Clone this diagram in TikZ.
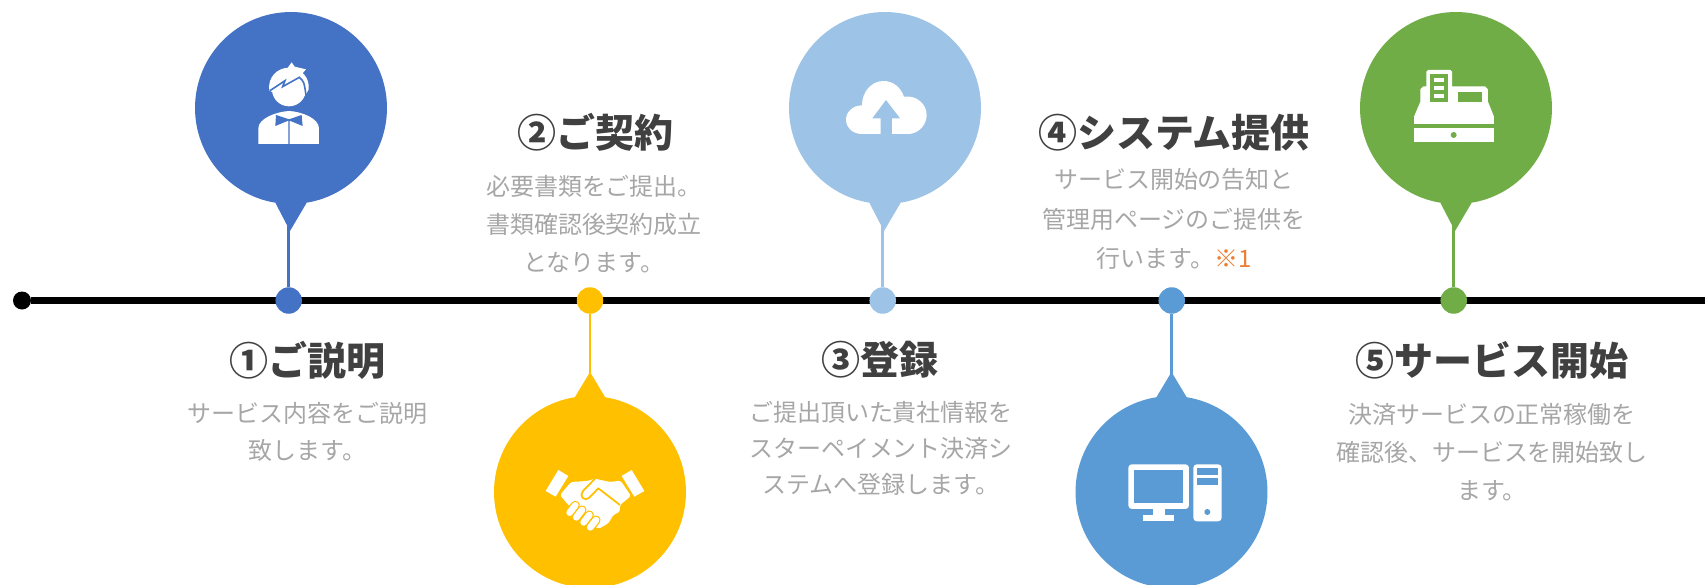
\documentclass[tikz,border=0pt]{standalone}
\usepackage{fontspec}
\usepackage{tikz}
\newfontfamily\jpfont{Noto Sans CJK JP}
\definecolor{blueA}{HTML}{4472C4}
\definecolor{goldA}{HTML}{FFC000}
\definecolor{skyA}{HTML}{9DC3E6}
\definecolor{blueB}{HTML}{5B9BD5}
\definecolor{greenA}{HTML}{70AD47}
\definecolor{titlegray}{HTML}{404040}
\definecolor{bodygray}{HTML}{A6A6A6}
\definecolor{noteorange}{HTML}{ED7D31}
\tikzset{
  bubble/.style={circle, inner sep=0pt, minimum size=3.84cm},
  dotmark/.style={circle, inner sep=0pt, minimum size=0.53cm},
  titletext/.style={text=titlegray, font=\jpfont\bfseries\fontsize{22.2}{26}\selectfont},
  bodytext/.style={text=bodygray, align=center, font=\jpfont\fontsize{13.65}{#1}\selectfont},
}

\begin{document}
\begin{tikzpicture}[x=0.02cm, y=-0.02cm]
  \useasboundingbox (0,0) rectangle (1705,585);

  % Timeline
  \node[circle, fill=black, inner sep=0pt, minimum size=0.36cm] (start) at (22,300.5) {};
  \coordinate (lineend) at (1705,300.5);
  \draw[line width=3.6pt] (start) -- (lineend);

  % Upper bubbles
  \foreach \n/\xb/\xd/\col in {1/291/288.7/blueA,3/885/882.7/skyA,5/1456/1453.7/greenA} {
    \node[bubble, fill=\col] (bub\n) at (\xb,108) {};
    \fill[\col] ({\xb-15.5},203) -- ({\xb-1},231) -- ({\xb+15.5},203) -- cycle;
    \node[dotmark, fill=\col] (dot\n) at (\xd,300.5) {};
    \coordinate (tip\n) at (\xd,222);
    \draw[\col, line width=1.6pt] (tip\n) -- (dot\n);
  }

  % Lower bubbles
  \foreach \n/\xb/\xd/\col in {2/590/590/goldA,4/1171.5/1171.7/blueB} {
    \node[bubble, fill=\col] (bub\n) at (\xb,492) {};
    \fill[\col] ({\xb-15},397) -- (\xb,372) -- ({\xb+15},397) -- cycle;
    \node[dotmark, fill=\col] (dot\n) at (\xd,300.5) {};
    \coordinate (tip\n) at (\xd,378);
    \draw[\col, line width=1.6pt] (tip\n) -- (dot\n);
  }

  % Titles
  \node[titletext] (title1) at (307.5,360) {①ご説明};
  \node[titletext] (title2) at (595.5,132.5) {②ご契約};
  \node[titletext] (title3) at (880,360) {③登録};
  \node[titletext] (title4) at (1174,132.5) {④システム提供};
  \node[titletext] (title5) at (1492,360) {⑤サービス開始};

  % Texts
  \node[bodytext=21] (body1) at (307.5,432) {サービス内容をご説明\\致します。};
  \node[bodytext=21.6] (body2) at (594,224.5) {必要書類をご提出。\\書類確認後契約成立\\となります。};
  \node[bodytext=20.5] (body3) at (881,448) {ご提出頂いた貴社情報を\\スターペイメント決済シ\\ステムへ登録します。};
  \node[bodytext=22.3] (body4) at (1174,219) {サービス開始の告知と\\管理用ページのご提供を\\行います。\textcolor{noteorange}{※1}};
  \node[bodytext=21.6] (body5) at (1492,452) {決済サービスの正常稼働を\\確認後、サービスを開始致し\\ます。};

  % Person
  \begin{scope}[shift={(170,0)}, scale=0.3333]
    \fill[white] (298,272) .. controls (292,232) and (322,203) .. (357,203) .. controls (395,203) and (420,235) .. (416,268)
      .. controls (414,278) .. (407,285) -- (357,300) -- cycle;
    \fill[white] (357,268) circle (51);
    \fill[white] (352,205) -- (365,187) -- (374,200) -- (408,208) -- (396,222) -- cycle;
    \draw[blueA, line width=0.9pt] (300,272) -- (345,242) -- (338,260) -- (388,232) .. controls (402,245) .. (408,285);
    \fill[white] (265,432) -- (265,385) .. controls (265,355) and (320,335) .. (357,333)
      .. controls (395,335) and (447,355) .. (447,385) -- (447,432) -- cycle;
    \fill[blueA] (318,345) -- (357,358) -- (395,345) -- (398,378) -- (359,362) -- (359,432) -- (355,432) -- (355,362) -- (316,378) -- cycle;
  \end{scope}

  % Handshake
  \begin{scope}[shift={(470,360)}, scale=0.3333]
    \fill[white] (265,330) -- (295,348) -- (257,410) -- (227,393) -- cycle;
    \fill[white] (485,330) -- (523,393) -- (493,410) -- (455,348) -- cycle;
    \fill[white, rounded corners=1pt] (303,366) -- (352,363) -- (375,356) -- (420,366) -- (452,362) -- (483,408) -- (450,435)
      -- (450,455) -- (430,465) -- (415,490) -- (385,507) -- (340,470) -- (295,435) -- (270,405) -- cycle;
    \draw[goldA, line width=1pt, line join=round] (375,356) -- (340,392) .. controls (325,412) and (345,425) .. (358,413) -- (385,385) -- (450,435);
    \foreach \a/\b in {316/436,336/450,358/465,378/480} {
      \draw[goldA, line width=5.2pt, line cap=round] (\a,\b) -- ({\a-17},{\b+22});
      \draw[white, line width=3.8pt, line cap=round] (\a,\b) -- ({\a-17},{\b+22});
    }
  \end{scope}

  % Cloud
  \begin{scope}[shift={(780,0)}, scale=0.3333]
    \fill[white] (245,402) .. controls (218,402) and (198,382) .. (198,359) .. controls (198,335) and (220,316) .. (246,316)
      .. controls (246,275) and (275,243) .. (310,243) .. controls (340,243) and (362,262) .. (372,290)
      .. controls (410,285) and (440,312) .. (440,345) .. controls (440,378) and (412,402) .. (385,402) -- cycle;
    \fill[skyA] (318,300) -- (360,355) -- (336,355) -- (336,403) -- (302,403) -- (302,355) -- (277,355) -- cycle;
  \end{scope}

  % Computer
  \begin{scope}[shift={(1070,360)}, scale=0.3333]
    \fill[white, rounded corners=2pt] (175,313) rectangle (357,447);
    \fill[blueB] (193,331) rectangle (340,428);
    \fill[white] (248,447) rectangle (285,465);
    \fill[white] (220,465) rectangle (312,484);
    \fill[white, rounded corners=2pt] (370,313) rectangle (455,484);
    \fill[blueB] (382,325) rectangle (443,344);
    \fill[blueB] (382,355) rectangle (443,374);
    \fill[blueB] (412,456) circle (9);
  \end{scope}

  % Register
  \begin{scope}[shift={(1355,0)}, scale=0.3333]
    \fill[white] (177,372) -- (177,350) -- (196,305) -- (196,268) -- (205,259) -- (390,259) -- (399,268) -- (399,305)
      -- (417,350) -- (417,372) -- cycle;
    \fill[white] (177,385) rectangle (417,427);
    \fill[greenA] (296,405) circle (9);
    \fill[white, rounded corners=1pt] (214,210) rectangle (291,320);
    \fill[greenA] (226,222) rectangle (280,307);
    \foreach \b in {234,258,282}
      \fill[white] (237,\b) rectangle (267,{\b+12});
    \fill[greenA] (309,277) rectangle (381,307);
  \end{scope}

\end{tikzpicture}
\end{document}
